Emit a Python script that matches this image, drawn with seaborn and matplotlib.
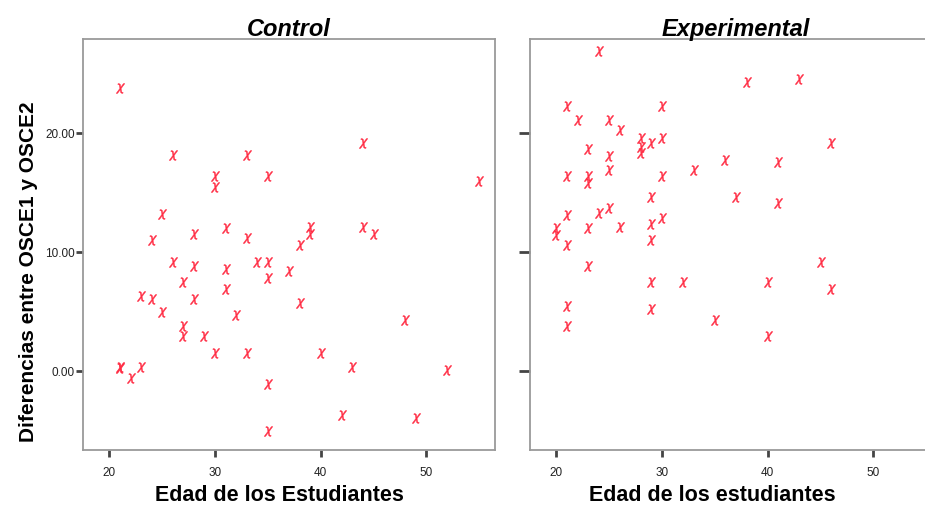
import matplotlib
matplotlib.use("Agg")
import matplotlib.pyplot as plt
import seaborn as sns
import pandas as pd

# Control group
control_age = [21, 26, 33, 44, 30, 30, 35, 55, 25, 24, 28, 31, 33, 39, 39, 38, 44, 45,
               26, 28, 31, 34, 35, 35, 37, 27, 31, 23, 24, 28, 38, 25, 32, 48, 27, 27, 29,
               30, 33, 40, 21, 21, 23, 22, 43, 52, 35, 42, 49, 35]
control_diff = [23.75, 18.2, 18.2, 19.15, 16.4, 15.5, 16.4, 16.0, 13.25, 11.0, 11.5, 12.0, 11.2, 12.15, 11.5, 10.6, 12.15, 11.5,
                9.2, 8.85, 8.57, 9.2, 9.2, 7.87, 8.4, 7.5, 6.95, 6.3, 6.1, 6.1, 5.77, 5.0, 4.7, 4.3, 3.85, 2.95, 2.95,
                1.55, 1.55, 1.55, 0.4, 0.25, 0.4, -0.55, 0.4, 0.1, -1.05, -3.65, -3.9, -5.0]

# Experimental group
exp_age = [24, 38, 43, 21, 30, 22, 25, 26, 46, 28, 28, 28, 29, 30, 23, 25, 36, 41, 25, 33,
           21, 23, 23, 30, 29, 37, 41, 25, 24, 21, 30, 29, 20, 20, 23, 26, 29, 21,
           23, 29, 32, 40, 45, 46, 21, 29, 35, 21, 40]
exp_diff = [26.9, 24.25, 24.55, 22.3, 22.3, 21.1, 21.1, 20.3, 19.15, 19.55, 18.8, 18.3, 19.15, 19.55, 18.65, 18.1, 17.75, 17.55, 16.9, 16.9,
            16.4, 16.4, 15.85, 16.4, 14.6, 14.6, 14.1, 13.75, 13.3, 13.1, 12.9, 12.35, 12.05, 11.45, 12.0, 12.15, 11.0, 10.6,
            8.85, 7.5, 7.5, 7.5, 9.2, 6.95, 5.45, 5.2, 4.3, 3.8, 2.95]

panel_titles = ["Control", "Experimental"]
x_labels = ["Edad de los Estudiantes", "Edad de los estudiantes"]
y_label = "Diferencias entre OSCE1 y OSCE2"
x_ticks = [20, 30, 40, 50]
y_ticks = [0, 10, 20]
y_tick_labels = ["0.00", "10.00", "20.00"]

df_c = pd.DataFrame({"edad": control_age, "dif": control_diff})
df_e = pd.DataFrame({"edad": exp_age, "dif": exp_diff})

sns.set_style("white")
plt.rcParams['font.family'] = ['Liberation Sans', 'DejaVu Sans']

fig = plt.figure(figsize=(9.25, 5.08), dpi=100)
W, H = 925, 508
ax1 = fig.add_axes([83 / W, 1 - 450 / H, 412 / W, 411 / H])
ax2 = fig.add_axes([530 / W, 1 - 450 / H, 412 / W, 411 / H])

for ax, df, title, xl in zip([ax1, ax2], [df_c, df_e], panel_titles, x_labels):
    sns.scatterplot(data=df, x="edad", y="dif", ax=ax, marker=r"$\chi$",
                    s=50, color="#ff2d44", edgecolor="#ff2d44", linewidth=0.3)
    ax.set_xlim(17.5, 56.5)
    ax.set_ylim(-6.6, 27.9)
    ax.set_xticks(x_ticks)
    ax.set_yticks(y_ticks)
    ax.set_title(title, fontsize=17, fontweight="bold", fontstyle="italic", pad=2,
                 color="black")
    ax.set_xlabel(xl, fontsize=15.5, fontweight="bold", color="black")
    for s in ax.spines.values():
        s.set_color("#9a9a9a")
        s.set_linewidth(1.3)
    ax.tick_params(axis="both", which="both", direction="out", length=5, width=2,
                   color="#444444", labelsize=8.5, labelcolor="#222222")
    ax.tick_params(axis="x", bottom=True, pad=7)
    ax.tick_params(axis="y", left=True, pad=1)

ax1.xaxis.set_label_coords(0.478, -0.085)
ax2.xaxis.set_label_coords(0.442, -0.085)
ax1.set_yticklabels(y_tick_labels)
ax1.set_ylabel(y_label, fontsize=15, fontweight="bold", color="black")
ax1.yaxis.set_label_coords(-0.11, 0.435)
ax2.set_ylabel("")
ax2.set_yticklabels([])
ax2.tick_params(axis="y", length=8)

fig.savefig("out.png", dpi=100)
